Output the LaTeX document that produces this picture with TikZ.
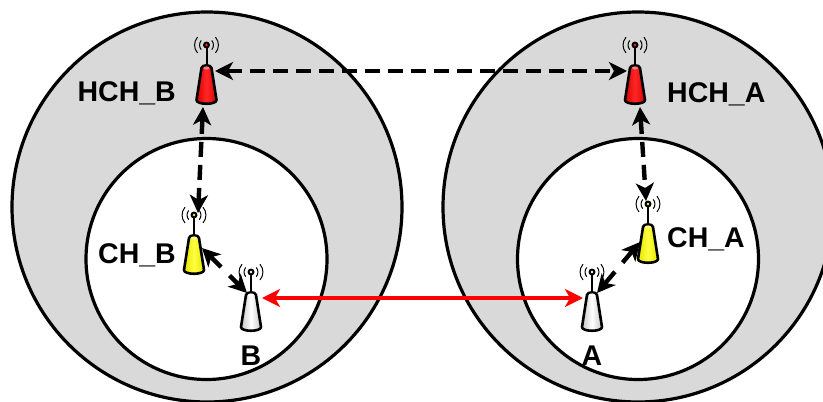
\documentclass[tikz,border=0pt]{standalone}
\usepackage{fontspec}
\setmainfont{Liberation Sans}
\usetikzlibrary{arrows.meta}
\definecolor{disc}{HTML}{D9D9D9}
\tikzset{
  x=1pt,y=-1pt,
  outerring/.style={draw=black,line width=3.2pt,fill=disc},
  innerring/.style={draw=black,line width=3.2pt,fill=white},
  anchorbox/.style={minimum width=19pt,minimum height=38pt,inner sep=0pt,outer sep=0pt},
  label/.style={font=\fontsize{28.5}{30}\selectfont\bfseries,inner sep=0pt,text=black},
  tips/.style={{Stealth[length=18pt,width=18pt,inset=5pt]}-{Stealth[length=18pt,width=18pt,inset=5pt]}},
  blacklink/.style={tips,draw=black,line width=4.4pt,dash pattern=on 15pt off 8pt},
  shortlink/.style={tips,draw=black,line width=4.4pt,dash pattern=on 15pt off 12pt},
  redlink/.style={tips,draw=red,line width=3.8pt},
  wave/.style={draw=black,line width=1pt},
}
% \antenna{name}{x}{y of body top}{edge colour}{centre colour}
\newcommand{\antenna}[5]{%
  \node[anchorbox] (#1) at (#2,#3+19) {};
  \begin{scope}[shift={(#2,#3)}]
    \draw[black,line width=2pt] (0,0) -- (0,-22);
    \fill[black] (0,-22) circle (3.5pt);
    \fill[#5] (0,-22) circle (1.3pt);
    \foreach \r in {7,12}{
      \draw[wave] (-\r*.75,-22-\r*.65) arc[start angle=-139,end angle=-221,radius=\r];
      \draw[wave] (\r*.75,-22-\r*.65) arc[start angle=-41,end angle=41,radius=\r];
    }
    \draw[black,line width=2.6pt,left color=#4,right color=#4,middle color=#5,line join=round]
      (-5,1) -- (-10,33) .. controls (-10,38) and (10,38) .. (10,33) -- (5,1)
      .. controls (5,-2.5) and (-5,-2.5) .. (-5,1) -- cycle;
    \fill[#5!60!white] (0,1) ellipse (3pt and 1.6pt);
  \end{scope}%
}
\begin{document}
\begin{tikzpicture}
\useasboundingbox (0,0) rectangle (823,402);
\begin{scope}
\clip (0,0) rectangle (823,402);
\node[outerring,circle,minimum size=390pt,inner sep=0pt] (outerb) at (207,207) {};
\node[outerring,circle,minimum size=390pt,inner sep=0pt] (outera) at (638,207) {};
\node[innerring,circle,minimum size=241pt,inner sep=0pt] (innerb) at (206.5,259) {};
\node[innerring,circle,minimum size=241pt,inner sep=0pt] (innera) at (638,259) {};
\end{scope}
\antenna{hchb}{206.5}{67}{red!85!black}{red!85!white}
\antenna{hcha}{635}{67}{red!85!black}{red!85!white}
\antenna{chb}{194}{237}{yellow!90!black}{yellow!75!white}
\antenna{cha}{648}{226}{yellow!90!black}{yellow!75!white}
\antenna{b}{251}{294}{gray!45}{white}
\antenna{a}{592}{294}{gray!45}{white}
\draw[blacklink] ([xshift=-1pt,yshift=15pt]hchb.east) -- ([xshift=1.5pt,yshift=15pt]hcha.west);
\draw[blacklink] ([xshift=-3.5pt,yshift=-2pt]hchb.south) -- ([xshift=4pt,yshift=24pt]chb.north);
\draw[blacklink] ([xshift=5pt,yshift=-2pt]hcha.south) -- ([xshift=-2pt,yshift=25pt]cha.north);
\draw[shortlink] ([xshift=-1.5pt,yshift=8pt]chb.east) -- ([xshift=-4pt,yshift=1pt]b.north);
\draw[shortlink] ([xshift=1.5pt,yshift=3pt]cha.west) -- ([xshift=5pt,yshift=1pt]a.north);
\draw[redlink] ([xshift=1.5pt,yshift=15pt]b.east) -- ([xshift=0.5pt,yshift=15pt]a.west);
\node[label,anchor=east] (lhchb) at (176,93) {HCH\_B};
\node[label,anchor=west] (lhcha) at (667,94) {HCH\_A};
\node[label,anchor=east] (lchb) at (176,255) {CH\_B};
\node[label,anchor=west] (lcha) at (667,239) {CH\_A};
\node[label] (lb) at (251,356) {B};
\node[label] (la) at (592,356) {A};
\end{tikzpicture}
\end{document}
